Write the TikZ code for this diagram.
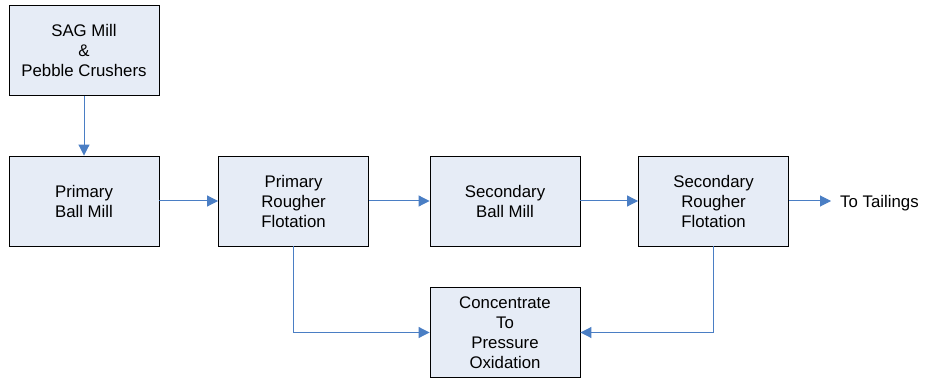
\documentclass[tikz,border=0pt]{standalone}
\usepackage{fontspec}
\setmainfont{Liberation Sans}
\usepackage{tikz}
\usetikzlibrary{arrows.meta}
\definecolor{boxfill}{HTML}{E6ECF6}
\definecolor{flowblue}{HTML}{4A7EC4}
\tikzstyle{block}=[draw=black,fill=boxfill,line width=0.9pt,minimum width=150pt,minimum height=90pt,align=center,font=\fontsize{16.8pt}{20pt}\selectfont,inner sep=0pt]
\tikzstyle{flow}=[draw=flowblue,line width=1pt,-{Triangle[length=11pt,width=11pt]}]

\begin{document}
\begin{tikzpicture}[x=1pt,y=-1pt]
        \useasboundingbox (0,0) rectangle (928,379);
        \node[block] (sag) at (84,50.5) {SAG Mill\\\&\\Pebble Crushers};
        \node[block] (pbm) at (84,201) {Primary\\Ball Mill};
        \node[block] (prf) at (293.5,201) {Primary\\Rougher\\Flotation};
        \node[block] (sbm) at (505,201) {Secondary\\Ball Mill};
        \node[block] (srf) at (713.5,201) {Secondary\\Rougher\\Flotation};
        \node[block] (conc) at (505,332.5) {Concentrate\\To\\Pressure\\Oxidation};
        \node[anchor=west,font=\fontsize{16.8pt}{20pt}\selectfont,inner sep=0pt] (tail) at (840,203) {To Tailings};

        \draw[flow] (sag) -- (pbm);
        \draw[flow] (pbm) -- (prf);
        \draw[flow] (prf) -- (sbm);
        \draw[flow] (sbm) -- (srf);
        \draw[flow,shorten >=9pt] (srf.east) -- (srf.east -| tail.west);
        \draw[flow] (prf.south) |- (conc.west);
        \draw[flow] (srf.south) |- (conc.east);
\end{tikzpicture}
\end{document}
